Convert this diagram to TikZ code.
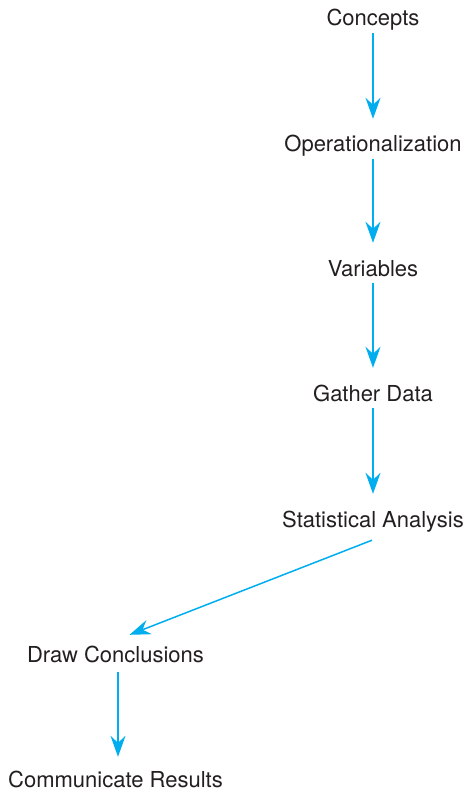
\documentclass[tikz,border=0pt]{standalone}
\usepackage{fontspec}
\setmainfont{TeX Gyre Heros}
\usetikzlibrary{arrows.meta}

\definecolor{flowblue}{RGB}{0,174,239}
\definecolor{labelgray}{RGB}{35,31,32}

\begin{document}
\begin{tikzpicture}[x=1pt, y=-1pt,
        step label/.style={anchor=base, inner sep=0pt, text height=16pt, text depth=5pt,
            text=labelgray, font=\fontsize{22}{26}\selectfont},
        flow/.style={flowblue, line width=1.5pt,
            -{Stealth[length=21pt, width=15pt, inset=7pt]}}]
            % Marco
            \useasboundingbox (0,0) rectangle (468,794);

            % Etapas
            \node[step label] (concepts) at (373, 26) {Concepts};
            \node[step label] (oper) at (373, 152) {Operationalization};
            \node[step label] (vars) at (373, 276) {Variables};
            \node[step label] (gather) at (373, 401) {Gather Data};
            \node[step label] (stats) at (373, 527) {Statistical Analysis};
            \node[step label] (concl) at (115.5, 662) {Draw Conclusions};
            \node[step label] (comm) at (115.5, 787) {Communicate Results};

            % Flechas
            \draw[flow, shorten <=2pt, shorten >=17pt] (concepts.south) -- (oper.north);
            \draw[flow, shorten <=2pt, shorten >=17pt] (oper.south) -- (vars.north);
            \draw[flow, shorten <=2pt, shorten >=17pt] (vars.south) -- (gather.north);
            \draw[flow, shorten <=2pt, shorten >=17pt] (gather.south) -- (stats.north);
            % Diagonal
            \draw[flow] ([xshift=-1pt, yshift=-8pt]stats.south) -- ([xshift=14pt, yshift=11pt]concl.north);
            \draw[flow, shorten >=14pt] ([xshift=2.5pt, yshift=-5pt]concl.south) -- ([xshift=2.5pt]comm.north);
        \end{tikzpicture}
\end{document}
